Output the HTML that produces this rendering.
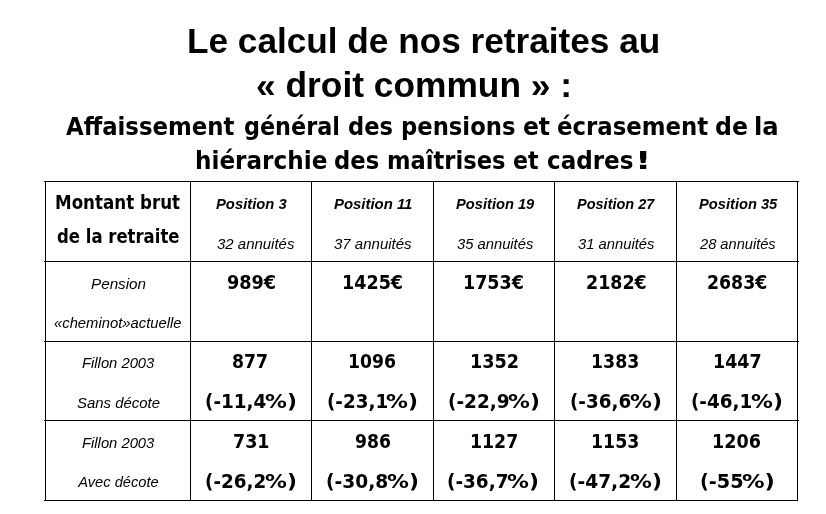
<!DOCTYPE html><html lang="fr"><head><meta charset="utf-8"><title>Le calcul de nos retraites</title><style>
html,body{margin:0;padding:0;background:#fff;}
body{width:826px;height:514px;position:relative;overflow:hidden;color:#000;}
.t{position:absolute;white-space:nowrap;line-height:1;transform-origin:0 0;}
.l{position:absolute;background:#000;}

.AB{font-family:"Liberation Sans",sans-serif;font-weight:700;}
.ABI{font-family:"Liberation Sans",sans-serif;font-weight:700;font-style:italic;}
.AI{font-family:"Liberation Sans",sans-serif;font-weight:400;font-style:italic;}
.TB{font-family:"DejaVu Sans Condensed","DejaVu Sans",sans-serif;font-weight:700;}
</style></head><body>
<div class="l" style="left:44px;top:181px;width:755px;height:1px"></div>
<div class="l" style="left:44px;top:261px;width:755px;height:1px"></div>
<div class="l" style="left:44px;top:341px;width:755px;height:1px"></div>
<div class="l" style="left:44px;top:420px;width:755px;height:1px"></div>
<div class="l" style="left:44px;top:500px;width:754px;height:1px"></div>
<div class="l" style="left:45px;top:181px;width:1px;height:320px"></div>
<div class="l" style="left:190px;top:181px;width:1px;height:320px"></div>
<div class="l" style="left:311px;top:181px;width:1px;height:320px"></div>
<div class="l" style="left:433px;top:181px;width:1px;height:320px"></div>
<div class="l" style="left:554px;top:181px;width:1px;height:320px"></div>
<div class="l" style="left:676px;top:181px;width:1px;height:320px"></div>
<div class="l" style="left:797px;top:181px;width:1px;height:320px"></div>
<div class="t AB" id="t1" style="font-size:35.2px;left:186.85px;top:22.6px;transform:scaleX(0.9999);">Le calcul de nos retraites au</div>
<div class="t AB" id="t2" style="font-size:35.2px;left:256.39px;top:66.9px;transform:scaleX(1.0042);">« droit commun » :</div>
<div class="t TB" id="s1a" style="font-size:24px;left:65.94px;top:114.7px;transform:scaleX(1.057);">Affaissement</div>
<div class="t TB" id="s1b" style="font-size:24px;left:244.07px;top:114.7px;transform:scaleX(1.0333);">général</div>
<div class="t TB" id="s1c" style="font-size:24px;left:348.05px;top:114.7px;transform:scaleX(1.0463);">des</div>
<div class="t TB" id="s1d" style="font-size:24px;left:400.66px;top:114.7px;transform:scaleX(1.0519);">pensions</div>
<div class="t TB" id="s1e" style="font-size:24px;left:523.12px;top:114.7px;transform:scaleX(1.0809);">et</div>
<div class="t TB" id="s1f" style="font-size:24px;left:556.84px;top:114.7px;transform:scaleX(1.0565);">écrasement</div>
<div class="t TB" id="s1g" style="font-size:24px;left:715.41px;top:114.7px;transform:scaleX(1.0929);">de</div>
<div class="t TB" id="s1h" style="font-size:24px;left:754.03px;top:114.7px;transform:scaleX(1.1243);">la</div>
<div class="t TB" id="s2a" style="font-size:24px;left:194.77px;top:148.6px;transform:scaleX(1.0716);">hiérarchie</div>
<div class="t TB" id="s2b" style="font-size:24px;left:333.55px;top:148.6px;transform:scaleX(1.0512);">des</div>
<div class="t TB" id="s2c" style="font-size:24px;left:386.97px;top:148.6px;transform:scaleX(1.0462);">maîtrises</div>
<div class="t TB" id="s2d" style="font-size:24px;left:513.17px;top:148.6px;transform:scaleX(1.0255);">et</div>
<div class="t TB" id="s2e" style="font-size:24px;left:546.98px;top:148.6px;transform:scaleX(1.0671);">cadres</div>
<div class="t TB" id="s2f" style="font-size:24px;left:635.34px;top:148.6px;transform:scaleX(1.6533);">!</div>
<div class="t TB" id="h1" style="font-size:18.67px;left:54.81px;top:194.3px;transform:scaleX(0.9956);">Montant brut</div>
<div class="t TB" id="h2" style="font-size:18.67px;left:56.66px;top:228.3px;transform:scaleX(0.9829);">de la retraite</div>
<div class="t ABI" id="p1" style="font-size:14.67px;left:216.25px;top:196.7px;transform:scaleX(1.0101);">Position 3</div>
<div class="t ABI" id="p2" style="font-size:14.67px;left:333.95px;top:196.7px;transform:scaleX(1.0171);">Position 11</div>
<div class="t ABI" id="p3" style="font-size:14.67px;left:456.0px;top:196.7px;transform:scaleX(1.0013);">Position 19</div>
<div class="t ABI" id="p4" style="font-size:14.67px;left:576.75px;top:196.7px;transform:scaleX(0.9898);">Position 27</div>
<div class="t ABI" id="p5" style="font-size:14.67px;left:698.9px;top:196.7px;transform:scaleX(1.0013);">Position 35</div>
<div class="t AI" id="a1" style="font-size:14.67px;left:217.19px;top:236.5px;transform:scaleX(1.0216);">32 annuités</div>
<div class="t AI" id="a2" style="font-size:14.67px;left:333.88px;top:236.5px;transform:scaleX(1.0242);">37 annuités</div>
<div class="t AI" id="a3" style="font-size:14.67px;left:456.6px;top:236.5px;transform:scaleX(1.0067);">35 annuités</div>
<div class="t AI" id="a4" style="font-size:14.67px;left:577.9px;top:236.5px;transform:scaleX(1.0083);">31 annuités</div>
<div class="t AI" id="a5" style="font-size:14.67px;left:700.0px;top:236.5px;transform:scaleX(0.9987);">28 annuités</div>
<div class="t AI" id="l21" style="font-size:14.67px;left:91.08px;top:276.6px;transform:scaleX(1.0399);">Pension</div>
<div class="t AI" id="l22" style="font-size:14.67px;left:54.4px;top:315.8px;transform:scaleX(1.01);">«cheminot»actuelle</div>
<div class="t TB" id="v21" style="font-size:18.67px;left:226.55px;top:273.5px;transform:scaleX(1.0525);">989€</div>
<div class="t TB" id="v22" style="font-size:18.67px;left:342.31px;top:273.5px;transform:scaleX(1.0462);">1425€</div>
<div class="t TB" id="v23" style="font-size:18.67px;left:463.31px;top:273.5px;transform:scaleX(1.0425);">1753€</div>
<div class="t TB" id="v24" style="font-size:18.67px;left:586.0px;top:273.5px;transform:scaleX(1.0393);">2182€</div>
<div class="t TB" id="v25" style="font-size:18.67px;left:706.81px;top:273.5px;transform:scaleX(1.0321);">2683€</div>
<div class="t AI" id="l31" style="font-size:14.67px;left:81.9px;top:355.9px;transform:scaleX(1.0085);">Fillon 2003</div>
<div class="t AI" id="l32" style="font-size:14.67px;left:77.29px;top:395.8px;transform:scaleX(1.0188);">Sans décote</div>
<div class="t TB" id="v31" style="font-size:18.67px;left:232.47px;top:353.4px;transform:scaleX(1.029);">877</div>
<div class="t TB" id="v32" style="font-size:18.67px;left:348.24px;top:353.4px;transform:scaleX(1.0286);">1096</div>
<div class="t TB" id="v33" style="font-size:18.67px;left:469.5px;top:353.4px;transform:scaleX(1.0497);">1352</div>
<div class="t TB" id="v34" style="font-size:18.67px;left:590.93px;top:353.4px;transform:scaleX(1.0345);">1383</div>
<div class="t TB" id="v35" style="font-size:18.67px;left:712.97px;top:353.4px;transform:scaleX(1.0414);">1447</div>
<div class="t TB" id="q31a" style="font-size:18.67px;left:204.94px;top:393.3px;transform:scaleX(1.0942);">(-11,4</div>
<div class="t TB" id="q31b" style="font-size:18.67px;left:265.25px;top:393.3px;transform:scaleX(1.3022);">%)</div>
<div class="t TB" id="q32a" style="font-size:18.67px;left:326.96px;top:393.3px;transform:scaleX(1.0917);">(-23,1</div>
<div class="t TB" id="q32b" style="font-size:18.67px;left:385.9px;top:393.3px;transform:scaleX(1.3022);">%)</div>
<div class="t TB" id="q33a" style="font-size:18.67px;left:447.94px;top:393.3px;transform:scaleX(1.0993);">(-22,9</div>
<div class="t TB" id="q33b" style="font-size:18.67px;left:508.25px;top:393.3px;transform:scaleX(1.3022);">%)</div>
<div class="t TB" id="q34a" style="font-size:18.67px;left:570.17px;top:393.3px;transform:scaleX(1.0904);">(-36,6</div>
<div class="t TB" id="q34b" style="font-size:18.67px;left:629.85px;top:393.3px;transform:scaleX(1.3022);">%)</div>
<div class="t TB" id="q35a" style="font-size:18.67px;left:690.75px;top:393.3px;transform:scaleX(1.0917);">(-46,1</div>
<div class="t TB" id="q35b" style="font-size:18.67px;left:750.95px;top:393.3px;transform:scaleX(1.3022);">%)</div>
<div class="t AI" id="l41" style="font-size:14.67px;left:81.9px;top:435.7px;transform:scaleX(1.0085);">Fillon 2003</div>
<div class="t AI" id="l42" style="font-size:14.67px;left:78.25px;top:475.0px;">Avec décote</div>
<div class="t TB" id="v41" style="font-size:18.67px;left:233.16px;top:433.2px;transform:scaleX(1.0429);">731</div>
<div class="t TB" id="v42" style="font-size:18.67px;left:354.67px;top:433.2px;transform:scaleX(1.0256);">986</div>
<div class="t TB" id="v43" style="font-size:18.67px;left:469.64px;top:433.2px;transform:scaleX(1.0322);">1127</div>
<div class="t TB" id="v44" style="font-size:18.67px;left:590.93px;top:433.2px;transform:scaleX(1.0345);">1153</div>
<div class="t TB" id="v45" style="font-size:18.67px;left:712.31px;top:433.2px;transform:scaleX(1.0469);">1206</div>
<div class="t TB" id="q41a" style="font-size:18.67px;left:205.36px;top:473.1px;transform:scaleX(1.0925);">(-26,2</div>
<div class="t TB" id="q41b" style="font-size:18.67px;left:264.95px;top:473.1px;transform:scaleX(1.3022);">%)</div>
<div class="t TB" id="q42a" style="font-size:18.67px;left:326.33px;top:473.1px;transform:scaleX(1.1104);">(-30,8</div>
<div class="t TB" id="q42b" style="font-size:18.67px;left:386.85px;top:473.1px;transform:scaleX(1.3022);">%)</div>
<div class="t TB" id="q43a" style="font-size:18.67px;left:447.34px;top:473.1px;transform:scaleX(1.0969);">(-36,7</div>
<div class="t TB" id="q43b" style="font-size:18.67px;left:507.25px;top:473.1px;transform:scaleX(1.3022);">%)</div>
<div class="t TB" id="q44a" style="font-size:18.67px;left:569.44px;top:473.1px;transform:scaleX(1.1075);">(-47,2</div>
<div class="t TB" id="q44b" style="font-size:18.67px;left:629.85px;top:473.1px;transform:scaleX(1.3022);">%)</div>
<div class="t TB" id="q45a" style="font-size:18.67px;left:700.18px;top:473.1px;transform:scaleX(1.1461);">(-55</div>
<div class="t TB" id="q45b" style="font-size:18.67px;left:742.33px;top:473.1px;transform:scaleX(1.3428);">%)</div>
</body></html>
